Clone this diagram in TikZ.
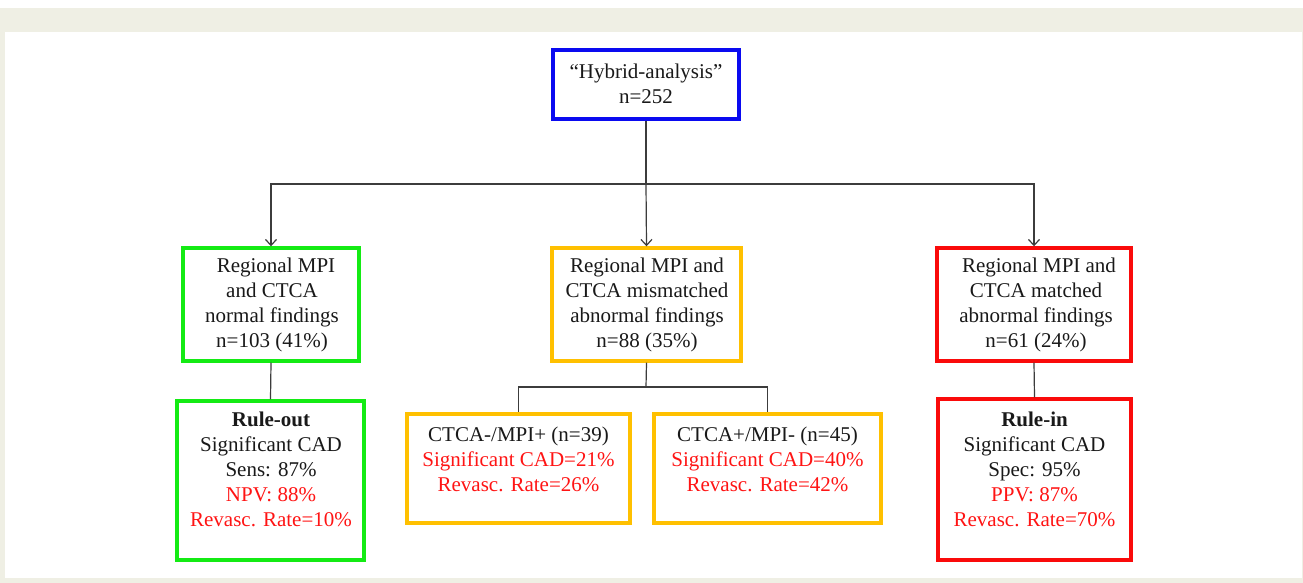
\documentclass[tikz,border=0pt]{standalone}
\usepackage{fontspec}
\setmainfont{Liberation Serif}
\usetikzlibrary{arrows.meta}
\definecolor{beige}{RGB}{239,239,228}
\definecolor{bblue}{RGB}{10,10,240}
\definecolor{bgreen}{RGB}{20,235,20}
\definecolor{borange}{RGB}{255,192,0}
\definecolor{bred}{RGB}{250,10,10}
\definecolor{tred}{RGB}{255,20,20}
\definecolor{tblack}{RGB}{25,25,25}
\definecolor{lgray}{RGB}{60,60,60}
\tikzset{
  box/.style={draw=#1, line width=3.4pt, inner sep=0pt},
  txt/.style={align=center, font=\fontsize{21}{25}\selectfont, inner sep=0pt, text=tblack},
  conn/.style={draw=lgray, line width=1.2pt},
  arr/.style={-{Straight Barb[length=6pt,width=11pt,line width=1.2pt]}}
}
\begin{document}
\begin{tikzpicture}[x=1pt,y=-1pt]
% background
\fill[white] (0,0) rectangle (1303,583);
\fill[beige] (0,8) rectangle (1303,583);
\fill[white] (5,32) rectangle (1302,578);
\useasboundingbox (0,0) rectangle (1303,583);

% boxes
\node[box=bblue, minimum width=186pt, minimum height=69pt] (top) at (646,84.5) {};
\node[txt] (topt) at (646,83.5) {“Hybrid-analysis”\\n=252};

\node[box=bgreen, minimum width=176pt, minimum height=113pt] (g1) at (271,304.5) {};
\node[txt] (g1t) at (272,305) {\hspace*{8pt}Regional MPI\\and CTCA\\normal findings\\n=103 (41\%)};

\node[box=borange, minimum width=189pt, minimum height=113pt] (o1) at (646.5,304.5) {};
\node[txt] (o1t) at (647,305) {Regional MPI and\\CTCA mismatched\\abnormal findings\\n=88 (35\%)};

\node[box=bred, minimum width=194pt, minimum height=113pt] (r1) at (1034,304.5) {};
\node[txt] (r1t) at (1036,305) {\hspace*{6pt}Regional MPI and\\CTCA matched\\abnormal findings\\n=61 (24\%)};

\node[box=bgreen, minimum width=187pt, minimum height=159pt] (g2) at (270.5,480.5) {};
\node[txt] (g2t) at (271,469) {\textbf{Rule-out}\\Significant CAD\\Sens: 87\%\\\textcolor{tred}{NPV: 88\%}\\\textcolor{tred}{Revasc. Rate=10\%}};

\node[box=borange, minimum width=223pt, minimum height=109pt] (o2a) at (518.5,468.5) {};
\node[txt] (o2at) at (518.5,459) {CTCA-/MPI+ (n=39)\\\textcolor{tred}{Significant CAD=21\%}\\\textcolor{tred}{Revasc. Rate=26\%}};

\node[box=borange, minimum width=227pt, minimum height=109pt] (o2b) at (767.5,468.5) {};
\node[txt] (o2bt) at (767.5,459) {CTCA+/MPI- (n=45)\\\textcolor{tred}{Significant CAD=40\%}\\\textcolor{tred}{Revasc. Rate=42\%}};

\node[box=bred, minimum width=193pt, minimum height=161pt] (r2) at (1034.5,479.5) {};
\node[txt] (r2t) at (1034.5,469) {\textbf{Rule-in}\\Significant CAD\\Spec: 95\%\\\textcolor{tred}{PPV: 87\%}\\\textcolor{tred}{Revasc. Rate=70\%}};

% connectors
\coordinate (jt) at (646,184);
\coordinate (jb) at (646,387);
\draw[conn] (top.south) -- (jt);
\draw[conn,arr] (jt) -| (g1.north);
\draw[conn,arr] (jt) -- (o1.north);
\draw[conn,arr] (jt) -| (r1.north);
\draw[conn] (g1.south) -- (g2.north);
\draw[conn] (r1.south) -- (r2.north);
\draw[conn] (o1.south) -- (jb);
\draw[conn] (jb) -| (o2a.north);
\draw[conn] (jb) -| (o2b.north);
\end{tikzpicture}
\end{document}
